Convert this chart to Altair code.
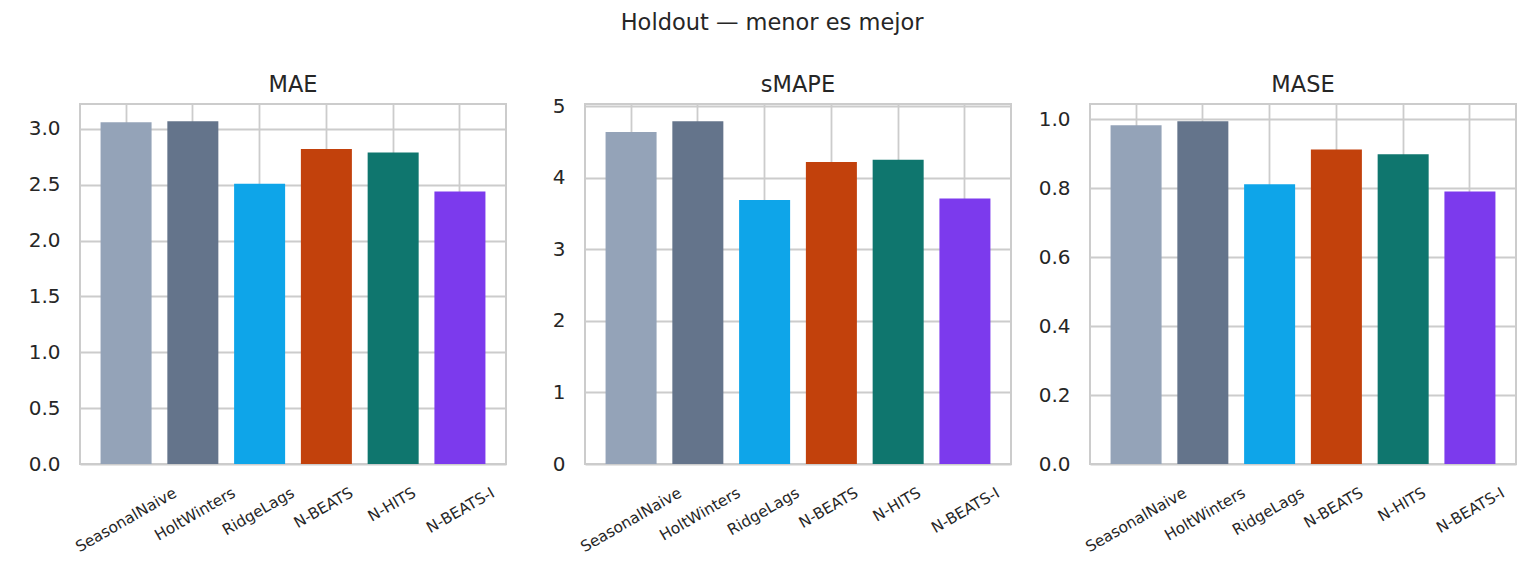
import pandas as pd
import altair as alt

models = ["SeasonalNaive", "HoltWinters", "RidgeLags", "N-BEATS", "N-HITS", "N-BEATS-I"]
colors = ["#94a3b8", "#64748b", "#0ea5e9", "#c2410c", "#0f766e", "#7c3aed"]

mae = [3.06, 3.07, 2.51, 2.82, 2.79, 2.44]
smape = [4.64, 4.79, 3.69, 4.22, 4.25, 3.71]
mase = [0.983, 0.995, 0.812, 0.913, 0.899, 0.791]

mae_ticks = [0.0, 0.5, 1.0, 1.5, 2.0, 2.5, 3.0]
smape_ticks = [0, 1, 2, 3, 4, 5]
mase_ticks = [0.0, 0.2, 0.4, 0.6, 0.8, 1.0]


def panel(metric, values, ticks, fmt, title_offset=8):
    df = pd.DataFrame({"model": models, "value": values})
    return alt.Chart(df, title=alt.TitleParams(metric, offset=title_offset)).mark_bar().encode(
        x=alt.X("model:N", sort=models, title=None,
                scale=alt.Scale(paddingInner=0.236, paddingOuter=0.308),
                axis=alt.Axis(grid=True, bandPosition=0.5, labelAngle=-30,
                              labelAlign="right", labelBaseline="top",
                              labelOverlap=False, labelPadding=21,
                              labelOffset={"expr": "3.95*length(datum.label) - 5.8"})),
        y=alt.Y("value:Q", title=None,
                # matplotlib-style 5% headroom
                scale=alt.Scale(domain=[0, max(values) * 1.05], nice=False, zero=True),
                axis=alt.Axis(values=ticks, format=fmt)),
        color=alt.Color("model:N", scale=alt.Scale(domain=models, range=colors), legend=None),
    ).properties(width=426, height=360)


chart = alt.hconcat(
    panel("MAE", mae, mae_ticks, ".1f"),
    # top tick label "5" sticks out above the frame, so the title sits closer
    panel("sMAPE", smape, smape_ticks, "d", title_offset=0),
    panel("MASE", mase, mase_ticks, ".1f"),
    spacing=79, bounds="flush",
).properties(
    title=alt.TitleParams("Holdout — menor es mejor", anchor="middle", offset=38,
                          fontSize=22.5, font="DejaVu Sans", fontWeight="normal", color="#262626"),
    padding={"left": 19, "top": 4, "right": 5, "bottom": 5},
).configure_view(
    stroke="#cccccc", strokeWidth=2,
).configure_axis(
    gridColor="#cccccc", gridWidth=1.8, domain=False, ticks=False,
    labelFont="DejaVu Sans", labelColor="#262626",
).configure_axisY(
    labelFontSize=20, labelPadding=20,
).configure_axisX(
    labelFontSize=15.4,
).configure_title(
    font="DejaVu Sans", fontSize=22.5, fontWeight="normal", color="#262626",
)

chart.save("out.html", embed_options={"renderer": "svg", "actions": False})
